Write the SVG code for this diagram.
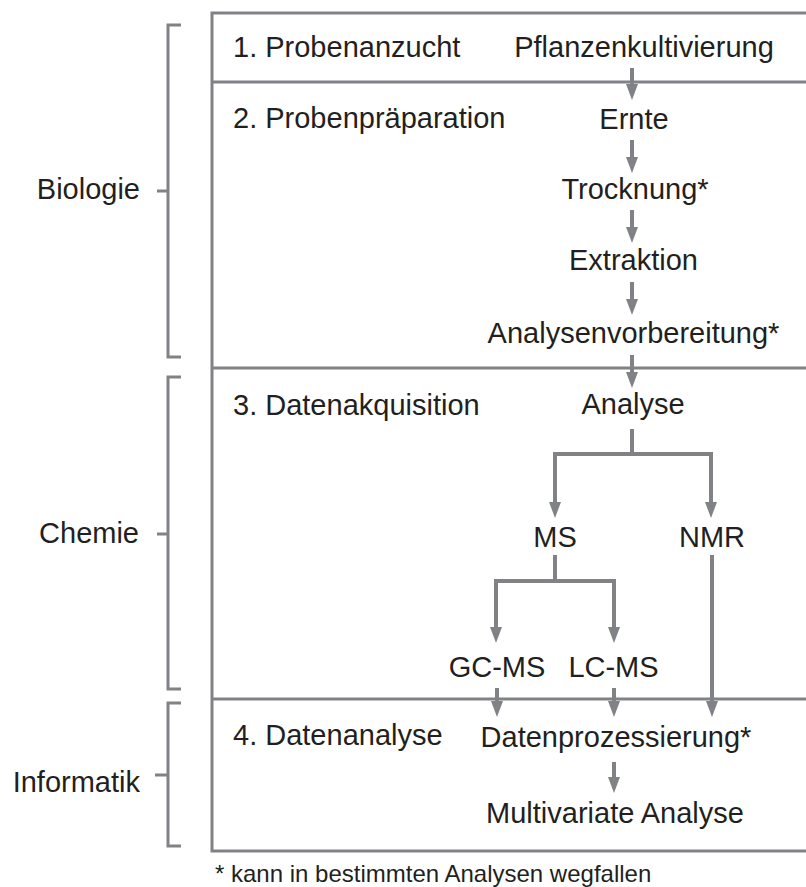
<svg xmlns="http://www.w3.org/2000/svg" width="806" height="887" viewBox="0 0 806 887">
<style>
text{font-family:"Liberation Sans",Arial,sans-serif;font-size:29px;fill:#231f20}
.c{text-anchor:middle}
.e{text-anchor:end}
.frame{fill:none;stroke:#818285;stroke-width:3}
.br{fill:none;stroke:#818285;stroke-width:3}
.con{fill:none;stroke:#818285;stroke-width:4;stroke-linejoin:miter}
.arr{marker-end:url(#ah)}
</style>
<defs>
<marker id="ah" markerUnits="userSpaceOnUse" markerWidth="16" markerHeight="12" viewBox="0 0 16 12" refX="6" refY="6" orient="auto">
<path d="M0,0 L16,6 L0,12 z" fill="#818285"/>
</marker>
</defs>
<g id="frame">
<path class="frame" d="M810,13 H212 V851 H810"/>
<line class="frame" x1="212" y1="82" x2="810" y2="82"/>
<line class="frame" x1="212" y1="368" x2="810" y2="368"/>
<line class="frame" x1="212" y1="699" x2="810" y2="699"/>
</g>
<g id="bracket-biologie">
<path class="br" d="M181,25 H168 V357 H181 M157,191 H168"/>
<text class="e" x="140" y="199">Biologie</text>
</g>
<g id="bracket-chemie">
<path class="br" d="M181,377 H168 V689 H181 M157,534 H168"/>
<text class="e" x="139" y="543">Chemie</text>
</g>
<g id="bracket-informatik">
<path class="br" d="M181,703 H168 V846 H181 M155,775 H168"/>
<text class="e" x="140" y="792">Informatik</text>
</g>
<g id="stages">
<text x="233" y="57">1. Probenanzucht</text>
<text x="233" y="128">2. Probenpräparation</text>
<text x="233" y="415">3. Datenakquisition</text>
<text x="233" y="745">4. Datenanalyse</text>
</g>
<g id="n-pflanzenkultivierung"><text class="c" x="644" y="57">Pflanzenkultivierung</text></g>
<g id="n-ernte"><text class="c" x="634" y="129">Ernte</text></g>
<g id="n-trocknung"><text class="c" x="635" y="199">Trocknung*</text></g>
<g id="n-extraktion"><text class="c" x="633.5" y="270">Extraktion</text></g>
<g id="n-analysenvorbereitung"><text class="c" x="633.5" y="343">Analysenvorbereitung*</text></g>
<g id="n-analyse"><text class="c" x="633" y="414">Analyse</text></g>
<g id="n-ms"><text class="c" x="555" y="547">MS</text></g>
<g id="n-nmr"><text class="c" x="712" y="547">NMR</text></g>
<g id="n-gcms"><text class="c" x="497" y="677">GC-MS</text></g>
<g id="n-lcms"><text class="c" x="613.5" y="677">LC-MS</text></g>
<g id="n-datenprozessierung"><text class="c" x="616" y="747">Datenprozessierung*</text></g>
<g id="n-multivariate"><text class="c" x="615" y="823">Multivariate Analyse</text></g>
<g id="connectors">
<path class="con arr" d="M632,68 V90"/>
<path class="con arr" d="M632,140 V163"/>
<path class="con arr" d="M632,210 V233"/>
<path class="con arr" d="M632,282 V305"/>
<path class="con arr" d="M632,355 V378"/>
<path class="con arr" d="M632,429 V454 H555 V508"/>
<path class="con arr" d="M632,454 H711 V508"/>
<path class="con arr" d="M555,555 V581 H496 V633"/>
<path class="con arr" d="M555,581 H614 V633"/>
<path class="con arr" d="M712,555 V707"/>
<path class="con arr" d="M497,688 V707"/>
<path class="con arr" d="M614,688 V707"/>
<path class="con arr" d="M614,762 V783"/>
</g>
<g id="footnote">
<text x="215" y="882" style="font-size:24px">* kann in bestimmten Analysen wegfallen</text>
</g>
</svg>
